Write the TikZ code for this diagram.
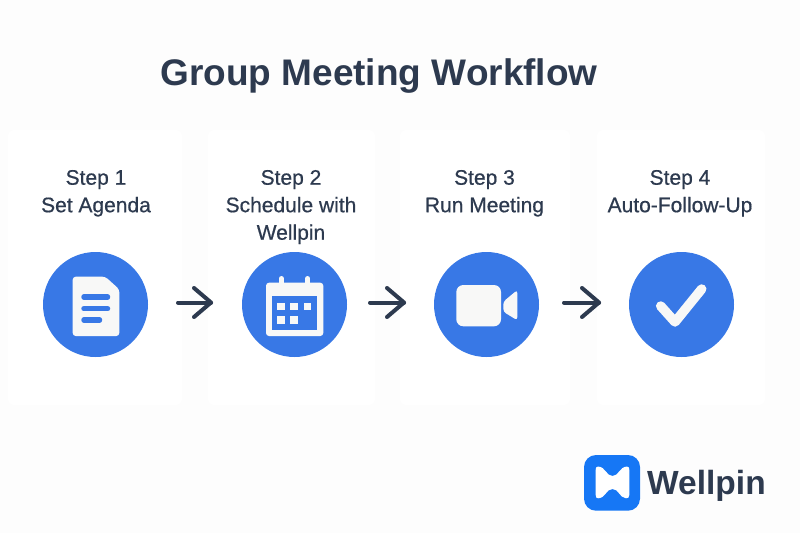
\documentclass[tikz,border=0pt]{standalone}
\usepackage{fontspec}
\setmainfont{Liberation Sans}
\definecolor{inkblue}{HTML}{2D3A4F}
\definecolor{iconblue}{HTML}{3878E6}
\definecolor{logoblue}{HTML}{1677F5}
\definecolor{iconwhite}{HTML}{F8F8F7}
\definecolor{pagegray}{HTML}{FDFDFD}
\tikzset{
  stepcard/.style={fill=white,rounded corners=6},
  steptext/.style={text=inkblue,align=center,font=\fontsize{21}{27.5}\selectfont\addfontfeature{FakeBold=0.6}},
  stepcircle/.style={circle,fill=iconblue,minimum size=105,inner sep=0},
  flowarrow/.style={draw=inkblue,line width=4,line cap=round,line join=round},
  iconpart/.style={fill=iconwhite,draw=none},
  iconline/.style={draw=iconblue,line width=5.5,line cap=round}
}
\begin{document}
\begin{tikzpicture}[x=1pt,y=-1pt]
\useasboundingbox (0,0) rectangle (800,533);
\fill[pagegray] (0,0) rectangle (800,533);
\fill[stepcard] (8,130) rectangle (182,405);
\fill[stepcard] (208,130) rectangle (375,405);
\fill[stepcard] (400,130) rectangle (570,405);
\fill[stepcard] (597,130) rectangle (765,405);
\node[text=inkblue,anchor=base,font=\fontsize{37}{40}\bfseries\selectfont] (title) at (379,85) {Group Meeting Workflow};
\node[steptext,anchor=north] (text1) at (96,166.5) {Step 1\\Set Agenda};
\node[steptext,anchor=north] (text2) at (291,166.5) {Step 2\\Schedule with\\Wellpin};
\node[steptext,anchor=north] (text3) at (484.5,166.5) {Step 3\\Run Meeting};
\node[steptext,anchor=north] (text4) at (680,166.5) {Step 4\\Auto-Follow-Up};
\node[stepcircle] (doc) at (95.5,304.5) {};
\node[stepcircle] (cal) at (294.5,304.5) {};
\node[stepcircle] (cam) at (486.5,304.5) {};
\node[stepcircle] (chk) at (681.5,304.5) {};
\coordinate (a1s) at (178,302.5);
\coordinate (a1e) at (211,302.5);
\coordinate (a2s) at (370,302.5);
\coordinate (a2e) at (404,302.5);
\coordinate (a3s) at (564,302.5);
\coordinate (a3e) at (599,302.5);
\foreach \i in {1,2,3}{
  \draw[flowarrow] (a\i s) -- (a\i e);
  \draw[flowarrow] ([shift={(-17,-14.5)}]a\i e) -- (a\i e) -- ([shift={(-17,14.5)}]a\i e);
}
% document
\fill[iconpart,rounded corners=3] (72.7,276.7) -- (105.3,276.7) -- (119.3,289.3) -- (119.3,336) -- (72.7,336) -- cycle;
\draw[iconline] (84,297) -- (107.5,297);
\draw[iconline] (84,308.7) -- (107.5,308.7);
\draw[iconline] (84,320) -- (99.5,320);
% calendar
\fill[iconpart,rounded corners=3] (266,282.7) rectangle (323.3,336);
\fill[iconblue] (272,296) rectangle (317.3,330);
\draw[iconwhite,line width=5,line cap=round] (281.3,278.5) -- (281.3,285);
\draw[iconwhite,line width=5,line cap=round] (307.7,278.5) -- (307.7,285);
\foreach \cx/\cy in {281/306.3,294/306.3,307.7/306.3,281/320,294/320}
  \fill[iconwhite] (\cx-3.7,\cy-3.7) rectangle (\cx+3.7,\cy+3.7);
% camera
\fill[iconpart,rounded corners=7] (456.3,285) rectangle (501,326.3);
\fill[iconpart,rounded corners=3] (503.3,301.7) -- (517.3,290) -- (517.3,320.3) -- (503.3,311.7) -- cycle;
% check
\draw[iconwhite,line width=9.5,line cap=round,line join=round] (660.7,306) -- (675,322) -- (701.7,289);
% logo
\fill[logoblue,rounded corners=12] (584,455) rectangle (640,510.7) ;
\fill[white] (598,466.5) .. controls (606,467) and (606,476) .. (612.5,476) .. controls (619,476) and (619,467) .. (627,466.5)
  .. controls (629,466.5) and (629.3,468) .. (629.3,470) -- (629.3,495) .. controls (629.3,497.5) and (628,498.5) .. (626,498.3)
  .. controls (619,497.5) and (619,489) .. (612.5,489) .. controls (606,489) and (606,497.5) .. (598.5,498.3)
  .. controls (596.5,498.5) and (595.7,497.5) .. (595.7,495) -- (595.7,470) .. controls (595.7,468) and (596,466.5) .. (598,466.5) -- cycle;
\node[text=inkblue,anchor=base west,inner sep=0,font=\fontsize{33.5}{40}\bfseries\selectfont] (brand) at (647,494) {Wellpin};
\end{tikzpicture}
\end{document}
